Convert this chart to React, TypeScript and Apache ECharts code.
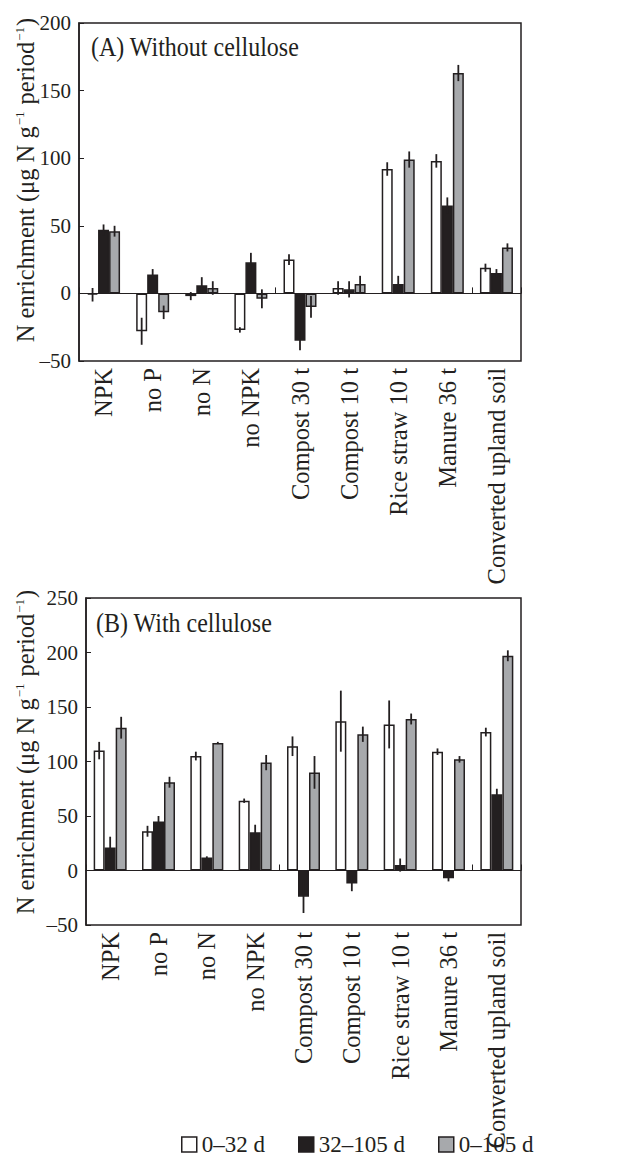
import React, { useEffect, useRef } from "react";
import * as echarts from "echarts";

const categories = [
  "NPK",
  "no P",
  "no N",
  "no NPK",
  "Compost 30 t",
  "Compost 10 t",
  "Rice straw 10 t",
  "Manure 36 t",
  "Converted upland soil",
];
const seriesNames = ["0–32 d", "32–105 d", "0–105 d"];
const yTicksA = [-50, 0, 50, 100, 150, 200];
const yTicksB = [-50, 0, 50, 100, 150, 200, 250];

// Panel A: without cellulose
const a0to32 = [-1, -28, -2, -27, 25, 4, 92, 98, 19];
const a0to32Err = [5, 10, 3, 2, 4, 5, 5, 5, 3];
const a32to105 = [47, 14, 6, 23, -35, 3, 7, 65, 15];
const a32to105Err = [4, 4, 6, 7, 7, 6, 6, 6, 3];
const a0to105 = [46, -14, 4, -4, -10, 7, 99, 163, 34];
const a0to105Err = [4, 5, 5, 7, 8, 6, 6, 6, 3];

// Panel B: with cellulose
const b0to32 = [110, 36, 105, 64, 114, 137, 134, 109, 127];
const b0to32Err = [8, 5, 4, 2, 9, 28, 22, 3, 4];
const b32to105 = [21, 45, 12, 35, -24, -12, 5, -7, 70];
const b32to105Err = [10, 5, 1, 7, 15, 7, 6, 3, 5];
const b0to105 = [131, 81, 117, 99, 90, 125, 139, 102, 197];
const b0to105Err = [10, 5, 1, 7, 15, 7, 5, 3, 5];

const INK = "#231f20";
const FILLS = ["#ffffff", "#231f20", "#a7a9ac"];
const FONT = '"Liberation Serif", "Times New Roman", serif';
const BAR_W = 11;

export default function App() {
  const ref = useRef<HTMLDivElement>(null);

  useEffect(() => {
    document.body.style.margin = "0";
    if (!ref.current) return;
    const chart = echarts.init(ref.current, undefined, { renderer: "svg" });

    const panels = [
      { vals: [a0to32, a32to105, a0to105], errs: [a0to32Err, a32to105Err, a0to105Err], ticks: yTicksA },
      { vals: [b0to32, b32to105, b0to105], errs: [b0to32Err, b32to105Err, b0to105Err], ticks: yTicksB },
    ];

    const grids = [
      { left: 79, top: 23, width: 442, height: 338 },
      { left: 86, top: 598, width: 435, height: 327 },
    ].map((g) => ({ ...g, show: true, borderColor: INK, borderWidth: 1.5, backgroundColor: "transparent" }));

    const xAxis: any[] = [];
    const yAxis: any[] = [];
    panels.forEach((p, gi) => {
      xAxis.push({
        gridIndex: gi,
        type: "category",
        data: categories,
        position: "bottom",
        axisLine: { show: false, onZero: false },
        axisTick: { show: false },
        axisLabel: {
          rotate: 90,
          interval: 0,
          margin: 7,
          fontSize: 24.5,
          fontFamily: FONT,
          color: INK,
        },
      });
      xAxis.push({
        gridIndex: gi,
        type: "category",
        data: categories,
        position: "bottom",
        axisLine: { show: true, onZero: true, lineStyle: { color: INK, width: 1.2 } },
        axisTick: { show: true, inside: true, length: 6, alignWithLabel: false, lineStyle: { color: INK, width: 1 } },
        axisLabel: { show: false },
      });
      yAxis.push({
        gridIndex: gi,
        type: "value",
        min: p.ticks[0],
        max: p.ticks[p.ticks.length - 1],
        interval: 50,
        axisLine: { show: true, lineStyle: { color: INK, width: 1.5 } },
        axisTick: { show: true, inside: true, length: 5, lineStyle: { color: INK } },
        splitLine: { show: false },
        axisLabel: {
          margin: 8,
          fontSize: 21,
          fontFamily: FONT,
          color: INK,
          formatter: (v: number) => String(v).replace("-", "–"),
        },
      });
    });

    const series: any[] = [];
    panels.forEach((p, gi) => {
      p.vals.forEach((vals, si) => {
        series.push({
          type: "bar",
          name: seriesNames[si],
          xAxisIndex: gi * 2,
          yAxisIndex: gi,
          data: vals,
          barWidth: BAR_W,
          barGap: "0%",
          itemStyle: { color: FILLS[si], borderColor: INK, borderWidth: 1.5 },
          z: 2,
        });
      });
      p.vals.forEach((vals, si) => {
        const offset = (si - 1) * BAR_W;
        series.push({
          type: "custom",
          xAxisIndex: gi * 2,
          yAxisIndex: gi,
          z: 5,
          data: vals.map((v, i) => [i, v, p.errs[si][i]]),
          encode: { x: 0, y: 1 },
          renderItem: (params: any, api: any) => {
            const i = api.value(0);
            const v = api.value(1);
            const e = api.value(2);
            const top = api.coord([i, v + e]);
            const bot = api.coord([i, v - e]);
            const x = top[0] + offset;
            return {
              type: "line",
              shape: { x1: x, y1: top[1], x2: x, y2: bot[1] },
              style: { stroke: INK, lineWidth: 1.8 },
            };
          },
        });
      });
    });

    const yTitle = (cy: number) => ({
      type: "text",
      x: 25,
      y: cy,
      rotation: Math.PI / 2,
      style: {
        text: "{n|N enrichment (μg N g}{sup|−1}{n| period}{sup|−1}{n|)}",
        fontSize: 24.5,
        fontFamily: FONT,
        fill: INK,
        align: "center",
        verticalAlign: "middle",
        textAlign: "center",
        textVerticalAlign: "middle",
        rich: {
          n: { fontSize: 24.5, fontFamily: FONT, fontWeight: "normal", fill: INK, color: INK },
          sup: {
            fontSize: 13,
            fontFamily: FONT,
            fontWeight: "normal",
            fill: INK,
            color: INK,
            verticalAlign: "top",
            padding: [0, 1, 10, 1],
          },
        },
      },
    });

    const panelTitle = (x: number, cy: number, text: string) => ({
      type: "text",
      x,
      y: cy,
      scaleY: 1.12,
      style: {
        text,
        fontSize: 24,
        fontFamily: FONT,
        fill: INK,
        align: "left",
        verticalAlign: "middle",
        textAlign: "left",
        textVerticalAlign: "middle",
      },
    });

    chart.setOption({
      animation: false,
      backgroundColor: "#ffffff",
      grid: grids,
      xAxis,
      yAxis,
      series,
      legend: {
        left: 181,
        top: 1133,
        padding: 0,
        icon: "rect",
        itemWidth: 15,
        itemHeight: 15,
        itemGap: 33,
        textStyle: { fontSize: 23, fontFamily: FONT, color: INK },
        data: seriesNames.map((n, i) => ({
          name: n,
          itemStyle: { color: FILLS[i], borderColor: INK, borderWidth: 1.5 },
        })),
      },
      graphic: [
        panelTitle(91, 47, "(A) Without cellulose"),
        panelTitle(96, 623, "(B) With cellulose"),
        yTitle(180),
        yTitle(752),
      ],
    });

    return () => chart.dispose();
  }, []);

  return <div ref={ref} style={{ width: 623, height: 1156 }} />;
}
